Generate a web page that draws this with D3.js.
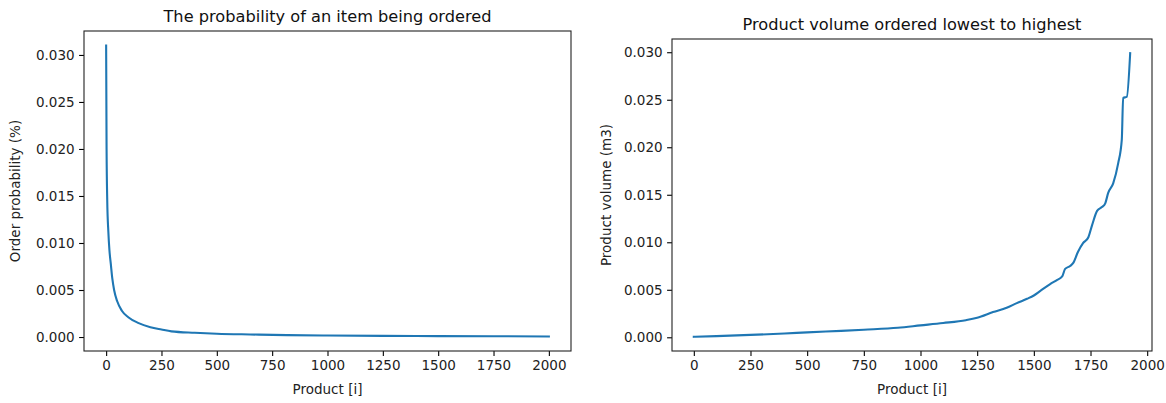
<!DOCTYPE html>
<html>
<head>
<meta charset="utf-8">
<script src="https://cdn.jsdelivr.net/npm/d3@7"></script>
<style>
  html, body { margin: 0; padding: 0; background: #fff; }
  svg { display: block; font-family: "DejaVu Sans", sans-serif; }
</style>
</head>
<body>
<svg id="chart" width="1166" height="403"></svg>
<script>
// ---- Data ----
// Left panel: order probability by product index
const probIndex = [0, 2, 5, 10, 15, 21, 28, 36, 50, 71, 100, 147, 200, 250, 295, 400, 500, 650, 817, 1000, 1250, 1500, 1750, 2000];
const probValue = [0.0310, 0.0200, 0.0145, 0.0112, 0.0092, 0.0078, 0.0062, 0.0050, 0.0038, 0.0028, 0.0021, 0.00148, 0.00105, 0.00080, 0.00060, 0.00045, 0.00035, 0.00027, 0.00020, 0.00016, 0.00012, 0.00010, 0.00008, 0.00006];

// Right panel: product volume sorted lowest to highest
const volIndex = [0, 100, 250, 400, 500, 650, 750, 900, 1000, 1100, 1200, 1250, 1320, 1380, 1425, 1470, 1500, 1530, 1572, 1600, 1625, 1638, 1660, 1673, 1695, 1717, 1740, 1757, 1779, 1800, 1815, 1828, 1850, 1872, 1888, 1894, 1910, 1925];
const volValue = [0.00005, 0.00012, 0.00025, 0.00040, 0.00052, 0.00068, 0.00080, 0.00100, 0.00125, 0.00150, 0.00180, 0.00205, 0.00265, 0.00310, 0.00360, 0.00405, 0.00440, 0.00490, 0.00560, 0.00600, 0.00640, 0.00720, 0.00750, 0.00780, 0.00900, 0.00990, 0.01050, 0.01180, 0.01330, 0.01370, 0.01410, 0.01520, 0.01620, 0.01830, 0.02080, 0.02520, 0.02530, 0.02990];

const xTicks = [0, 250, 500, 750, 1000, 1250, 1500, 1750, 2000];
const yTicks = [0, 0.005, 0.010, 0.015, 0.020, 0.025, 0.030];

const titles = ["The probability of an item being ordered", "Product volume ordered lowest to highest"];
const xLabels = ["Product [i]", "Product [i]"];
const yLabels = ["Order probability (%)", "Product volume (m3)"];

// ---- Layout ----
const svg = d3.select("#chart");
const panels = [
  { box: { left: 84, right: 571, top: 31, bottom: 351 }, xs: probIndex, ys: probValue, title: titles[0], xl: xLabels[0], yl: yLabels[0], ylx: 20 },
  { box: { left: 672, right: 1152, top: 39, bottom: 351 }, xs: volIndex, ys: volValue, title: titles[1], xl: xLabels[1], yl: yLabels[1], ylx: 611 }
];

const tickFont = 13.5;
const color = "#1f77b4";

function padded(ext) {
  const span = ext[1] - ext[0];
  return [ext[0] - 0.05 * span, ext[1] + 0.05 * span];
}

panels.forEach(p => {
  const b = p.box;
  const x = d3.scaleLinear().domain(padded(d3.extent(p.xs))).range([b.left, b.right]);
  const y = d3.scaleLinear().domain(padded(d3.extent(p.ys))).range([b.bottom, b.top]);

  const g = svg.append("g");

  // data line
  const pts = p.xs.map((v, i) => [v, p.ys[i]]);
  g.append("path")
    .datum(pts)
    .attr("fill", "none")
    .attr("stroke", color)
    .attr("stroke-width", 2.1)
    .attr("stroke-linejoin", "round")
    .attr("stroke-linecap", "square")
    .attr("d", d3.line().x(d => x(d[0])).y(d => y(d[1])).curve(d3.curveMonotoneX));

  // axes
  const xAxis = g.append("g")
    .attr("transform", `translate(0,${b.bottom})`)
    .call(d3.axisBottom(x).tickValues(xTicks).tickFormat(d3.format("d")).tickSizeOuter(0).tickSize(4.9).tickPadding(4.5));
  const yAxis = g.append("g")
    .attr("transform", `translate(${b.left},0)`)
    .call(d3.axisLeft(y).tickValues(yTicks).tickFormat(d3.format(".3f")).tickSizeOuter(0).tickSize(4.9).tickPadding(4.5));
  [xAxis, yAxis].forEach(a => {
    a.select(".domain").remove();
    a.selectAll("line").attr("stroke", "#000").attr("stroke-width", 1.1);
    a.selectAll("text").attr("font-size", tickFont).attr("fill", "#222").attr("font-family", "DejaVu Sans, sans-serif");
  });

  // frame
  g.append("rect")
    .attr("x", b.left).attr("y", b.top)
    .attr("width", b.right - b.left).attr("height", b.bottom - b.top)
    .attr("fill", "none").attr("stroke", "#222").attr("stroke-width", 1.1);

  // title
  g.append("text")
    .attr("x", (b.left + b.right) / 2).attr("y", b.top - 9)
    .attr("text-anchor", "middle").attr("font-size", 16.2).attr("fill", "#111")
    .text(p.title);

  // x label
  g.append("text")
    .attr("x", (b.left + b.right) / 2).attr("y", 394)
    .attr("text-anchor", "middle").attr("font-size", tickFont).attr("fill", "#222")
    .text(p.xl);

  // y label
  g.append("text")
    .attr("transform", `translate(${p.ylx},${(b.top + b.bottom) / 2}) rotate(-90)`)
    .attr("text-anchor", "middle").attr("font-size", tickFont).attr("fill", "#222")
    .text(p.yl);
});
</script>
</body>
</html>
